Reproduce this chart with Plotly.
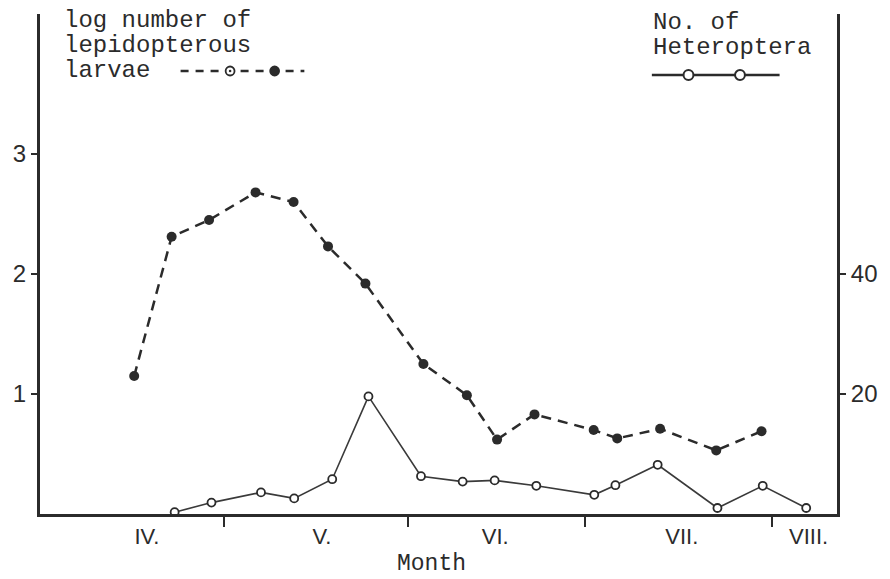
import plotly.graph_objects as go

# ---- data (x = days since 1 April) ----
lep_day = [15.6, 21.8, 28.0, 35.7, 42.0, 47.7, 53.9, 63.5, 70.7, 75.7, 81.9, 91.7, 95.6, 102.7, 112.0, 119.5]
lep_log = [1.15, 2.31, 2.45, 2.68, 2.60, 2.23, 1.92, 1.25, 0.99, 0.62, 0.83, 0.70, 0.63, 0.71, 0.53, 0.69]
het_day = [22.3, 28.4, 36.6, 42.1, 48.4, 54.4, 63.1, 70.0, 75.3, 82.2, 91.8, 95.3, 102.3, 112.2, 119.7, 126.9]
het_n = [0.3, 1.9, 3.6, 2.6, 5.8, 19.6, 6.3, 5.4, 5.6, 4.7, 3.2, 4.8, 8.2, 1.0, 4.7, 1.0]
month_labels = ["IV.", "V.", "VI.", "VII.", "VIII."]
month_label_pos = [17.7, 46.7, 75.4, 106.3, 127.3]
month_bounds = [30.5, 60.9, 90.2, 121.2]
left_ticks = [1, 2, 3]
right_ticks = [20, 40]

INK = "#2b2b2b"
MONO = "Liberation Mono, DejaVu Sans Mono, monospace"
SANS = "Liberation Sans, DejaVu Sans, sans-serif"

W, H = 890, 579
ML, MR, MT, MB = 40, 45, 14, 65
PW, PH = W - ML - MR, H - MT - MB


def px(x):
    return (x - ML) / PW


def py(y):
    return (H - MB - y) / PH


fig = go.Figure()
fig.add_trace(go.Scatter(
    x=lep_day, y=lep_log, mode="lines+markers", yaxis="y",
    line=dict(color=INK, width=2.5, dash="10px,7px"),
    marker=dict(size=10, color=INK),
    cliponaxis=False, showlegend=False))
fig.add_trace(go.Scatter(
    x=het_day, y=het_n, mode="lines+markers", yaxis="y2",
    line=dict(color="#3a3a3a", width=1.6),
    marker=dict(size=8, color="white", line=dict(color=INK, width=1.8)),
    cliponaxis=False, showlegend=False))

shapes = []
# legend sample: lepidopterous larvae
shapes.append(dict(type="line", xref="paper", yref="paper", x0=px(182), x1=px(307), y0=py(71), y1=py(71),
                   line=dict(color=INK, width=2.5, dash="8px,7px")))
for cx, filled in [(232, False), (277, True)]:
    r = 4.5
    shapes.append(dict(type="circle", xref="paper", yref="paper", x0=px(cx - r), x1=px(cx + r),
                       y0=py(71 + r), y1=py(71 - r),
                       fillcolor=INK if filled else "white", line=dict(color=INK, width=1.8)))
    if not filled:
        shapes.append(dict(type="circle", xref="paper", yref="paper", x0=px(cx - 1.3), x1=px(cx + 1.3),
                           y0=py(71 + 1.3), y1=py(71 - 1.3), fillcolor=INK, line=dict(color=INK, width=0)))
# legend sample: Heteroptera
shapes.append(dict(type="line", xref="paper", yref="paper", x0=px(658), x1=px(787), y0=py(75), y1=py(75),
                   line=dict(color=INK, width=2.5)))
for cx in [695, 747]:
    r = 5
    shapes.append(dict(type="circle", xref="paper", yref="paper", x0=px(cx - r), x1=px(cx + r),
                       y0=py(75 + r), y1=py(75 - r), fillcolor="white", line=dict(color=INK, width=2)))

annotations = []
for txt, xx, yy in [("log number of", 62, 20), ("lepidopterous", 62, 45), ("larvae", 62, 70),
                    ("No. of", 657, 22), ("Heteroptera", 657, 48)]:
    annotations.append(dict(text=txt, xref="paper", yref="paper", x=px(xx), y=py(yy),
                            xanchor="left", yanchor="middle", showarrow=False,
                            font=dict(family=MONO, size=24, color=INK)))
annotations.append(dict(text="Month", xref="paper", yref="paper", x=px(435), y=py(578),
                        xanchor="center", yanchor="bottom", showarrow=False, borderpad=0,
                        font=dict(family=MONO, size=23, color=INK)))

fig.update_layout(
    width=W, height=H,
    margin=dict(l=ML, r=MR, t=MT, b=MB),
    paper_bgcolor="white", plot_bgcolor="white",
    shapes=shapes, annotations=annotations,
    xaxis=dict(range=[0, 132], showline=True, linewidth=3, linecolor=INK, showgrid=False, zeroline=False,
               tickmode="array", tickvals=month_label_pos, ticktext=month_labels, ticks="",
               ticklabelstandoff=1, tickfont=dict(family=SANS, size=22, color=INK),
               minor=dict(tickmode="array", tickvals=month_bounds, ticks="outside", ticklen=10,
                          tickwidth=2, tickcolor=INK, showgrid=False)),
    yaxis=dict(range=[0, PH / 120], showline=True, linewidth=3, linecolor=INK, showgrid=False,
               zeroline=False, tickmode="array", tickvals=left_ticks, ticks="outside", ticklen=6,
               tickwidth=2, tickcolor=INK, tickfont=dict(family=SANS, size=24, color=INK)),
    yaxis2=dict(range=[0, PH / 6], overlaying="y", side="right", showline=True, linewidth=3,
                linecolor=INK, showgrid=False, zeroline=False, tickmode="array", tickvals=right_ticks,
                ticks="outside", ticklen=6, tickwidth=2, tickcolor=INK,
                tickfont=dict(family=SANS, size=24, color=INK)),
)

fig.write_html("out.html")
